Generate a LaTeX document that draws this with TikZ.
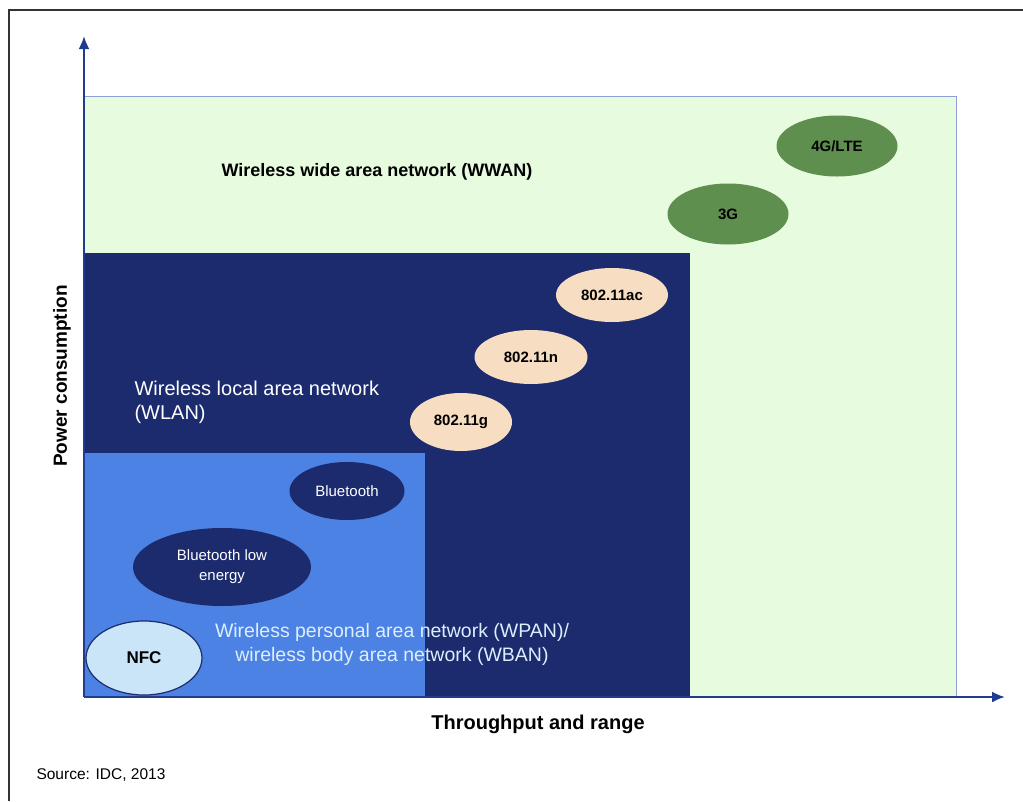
\documentclass[tikz,border=0pt]{standalone}
\usepackage{fontspec}
\setmainfont{Liberation Sans}
\usetikzlibrary{shapes.geometric,arrows.meta}
\definecolor{wwangreen}{HTML}{E7FBDF}
\definecolor{wwanedge}{HTML}{8C9FD6}
\definecolor{wlanblue}{HTML}{1B2B6E}
\definecolor{wpanblue}{HTML}{4C82E3}
\definecolor{cellgreen}{HTML}{5F8F4F}
\definecolor{wifipeach}{HTML}{F7DDC2}
\definecolor{nfcblue}{HTML}{C9E5F7}
\definecolor{axisblue}{HTML}{1F3C8F}
\definecolor{wpantext}{HTML}{DDEEFF}
\tikzset{
	band/.style={inner sep=0pt, anchor=south west},
	tech/.style={ellipse, inner sep=0pt, align=center, font=\fontsize{15}{17}\selectfont\bfseries},
	radio/.style={ellipse, inner sep=0pt, align=center, text=white, font=\fontsize{15}{20}\selectfont},
	axis/.style={-{Latex[length=13pt,width=11pt]}, line width=2.2pt, draw=axisblue},
	bigbold/.style={font=\fontsize{18}{20}\selectfont\bfseries}
}
\begin{document}
\begin{tikzpicture}[x=1pt,y=-1pt]
		\useasboundingbox[fill=white] (0,0) rectangle (1023,801);
		\draw[line width=1.5pt, black!80] (9,801) -- (9,10) -- (1023,10);
		
		\coordinate (O) at (84,697);
		\coordinate (ytop) at (84,36);
		\coordinate (xend) at (1005,697);
		
		% nested areas
		\node[band, fill=wwangreen, draw=wwanedge, line width=1pt, minimum width=872pt, minimum height=600pt] (wwan) at (O) {};
		\node[band, fill=wlanblue, minimum width=606pt, minimum height=444pt] (wlan) at (O) {};
		\node[band, fill=wpanblue, minimum width=341pt, minimum height=244pt] (wpan) at (O) {};
		
		\foreach \name/\x/\y/\w/\h/\col/\txt in {lte/837/146/121/61/cellgreen/{4G/LTE}, threeg/728/214/121/61/cellgreen/3G,
			ac/612/295/112/54/wifipeach/802.11ac, n/531/357/113/54/wifipeach/802.11n, g/461/422/102/58/wifipeach/802.11g}{
			\node[tech, fill=\col, minimum width=\w pt, minimum height=\h pt] (\name) at (\x,\y) {\txt};
		}
		\node[radio, fill=wlanblue, minimum width=115pt, minimum height=58pt] (bt) at (347,491) {Bluetooth};
		\node[radio, fill=wlanblue, minimum width=178pt, minimum height=78pt] (ble) at (222,567) {Bluetooth low\\energy};
		\node[tech, fill=nfcblue, draw=wlanblue, line width=1.2pt, minimum width=116pt, minimum height=74pt, font=\fontsize{17}{19}\selectfont\bfseries] (nfc) at (144,658) {NFC};
		
		\node[bigbold] (wwanlabel) at (377,172) {Wireless wide area network (WWAN)};
		\node[anchor=west, align=left, text=white, font=\fontsize{20}{24}\selectfont] (wlanlabel) at (131,402) {Wireless local area network\\(WLAN)};
		\node[align=center, text=wpantext, font=\fontsize{19.5}{24}\selectfont] (wpanlabel) at (392,644) {Wireless personal area network (WPAN)/\\wireless body area network (WBAN)};
		
		\draw[axis] (O) -- (ytop);
		\draw[axis] (O) -- (xend);
		\node[font=\fontsize{19}{21}\selectfont\bfseries, rotate=90] (ylabel) at (62,376) {Power consumption};
		\node[font=\fontsize{20}{22}\selectfont\bfseries] (xlabel) at (538,724) {Throughput and range};
		\node[anchor=west, font=\fontsize{15.5}{17}\selectfont] (source) at (33,775) {Source: IDC, 2013};
	\end{tikzpicture}
\end{document}
